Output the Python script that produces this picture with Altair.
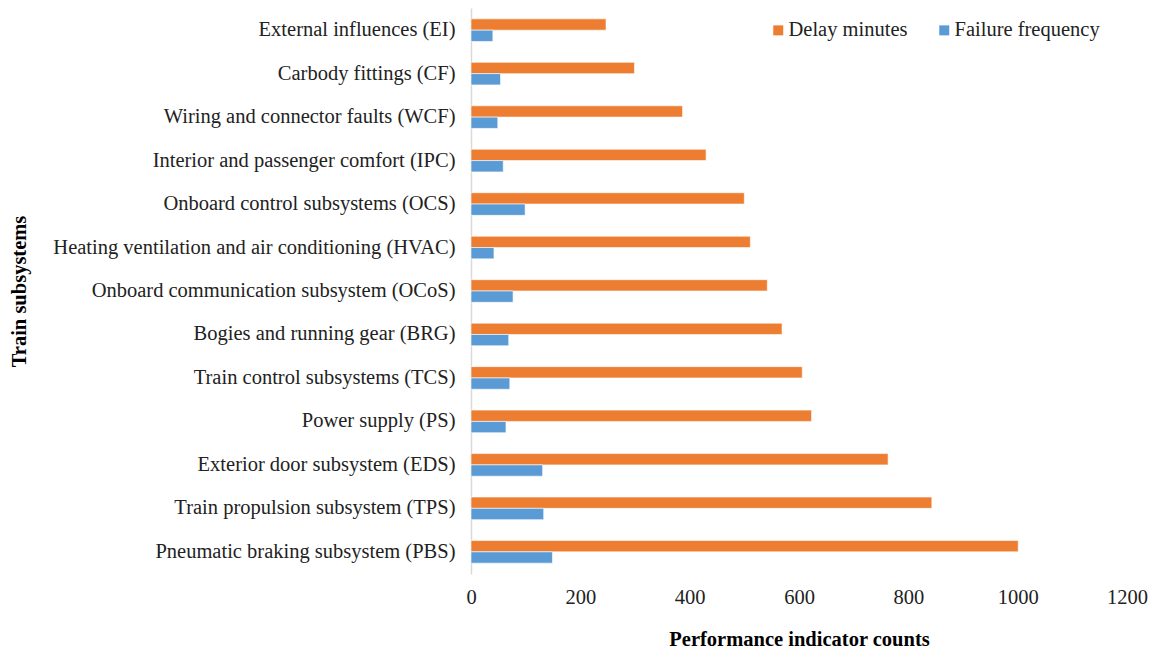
import altair as alt
import pandas as pd

# Train subsystems, listed top to bottom
subsystems = [
    "External influences (EI)",
    "Carbody fittings (CF)",
    "Wiring and connector faults (WCF)",
    "Interior and passenger comfort (IPC)",
    "Onboard control subsystems (OCS)",
    "Heating ventilation and air conditioning (HVAC)",
    "Onboard communication subsystem (OCoS)",
    "Bogies and running gear (BRG)",
    "Train control subsystems (TCS)",
    "Power supply (PS)",
    "Exterior door subsystem (EDS)",
    "Train propulsion subsystem (TPS)",
    "Pneumatic braking subsystem (PBS)",
]
delay_minutes = [247, 299, 387, 430, 500, 511, 542, 569, 606, 623, 763, 843, 1001]
failure_frequency = [40, 54, 49, 59, 99, 42, 77, 69, 71, 64, 131, 133, 149]

series_names = ["Delay minutes", "Failure frequency"]
series_colors = ["#ED7D31", "#5B9BD5"]
x_ticks = [0, 200, 400, 600, 800, 1000, 1200]

rows = []
for name, d, f in zip(subsystems, delay_minutes, failure_frequency):
    rows.append({"subsystem": name, "series": series_names[0], "value": d})
    rows.append({"subsystem": name, "series": series_names[1], "value": f})
df = pd.DataFrame(rows)

FONT = "Liberation Serif"
FS = 20.5
TEXT = "#222222"

chart = (
    alt.Chart(df)
    .mark_bar(stroke="white", strokeWidth=0.6)
    .encode(
        y=alt.Y(
            "subsystem:N",
            sort=subsystems,
            scale=alt.Scale(paddingInner=0.48, paddingOuter=0.25),
            axis=alt.Axis(
                title="Train subsystems",
                titleFont=FONT,
                titleFontSize=FS,
                titleFontWeight="bold",
                titleColor="black",
                titleAngle=270,
                titleBaseline="middle",
                titleX=-452,
                titleY=283,
                labelFont=FONT,
                labelFontSize=FS,
                labelColor=TEXT,
                labelPadding=16,
                labelLimit=600,
                ticks=False,
                domainColor="#d9d9d9",
                domainWidth=1.5,
            ),
        ),
        yOffset=alt.YOffset("series:N", sort=series_names),
        x=alt.X(
            "value:Q",
            scale=alt.Scale(domain=[0, 1200], nice=False),
            axis=alt.Axis(
                values=x_ticks,
                format="d",
                title="Performance indicator counts",
                titleFont=FONT,
                titleFontSize=FS,
                titleFontWeight="bold",
                titleColor="black",
                titlePadding=22,
                labelFont=FONT,
                labelFontSize=FS,
                labelColor=TEXT,
                labelPadding=13,
                ticks=False,
                domain=False,
                grid=False,
                labelFlush=False,
            ),
        ),
        color=alt.Color(
            "series:N",
            sort=series_names,
            scale=alt.Scale(domain=series_names, range=series_colors),
            legend=alt.Legend(
                title=None,
                orient="none",
                legendX=297,
                legendY=12,
                direction="horizontal",
                symbolType="square",
                symbolSize=100,
                symbolStrokeWidth=0,
                labelFont=FONT,
                labelFontSize=FS,
                labelColor=TEXT,
                columnPadding=26,
                labelOffset=0,
            ),
        ),
    )
    .properties(width=656, height=566)
    .configure(background="white", padding={"left": 9, "top": 8, "right": 0, "bottom": 4})
    .configure_view(strokeWidth=0, stroke="transparent")
)

chart.save("out.html", embed_options={"renderer": "svg", "actions": False})
